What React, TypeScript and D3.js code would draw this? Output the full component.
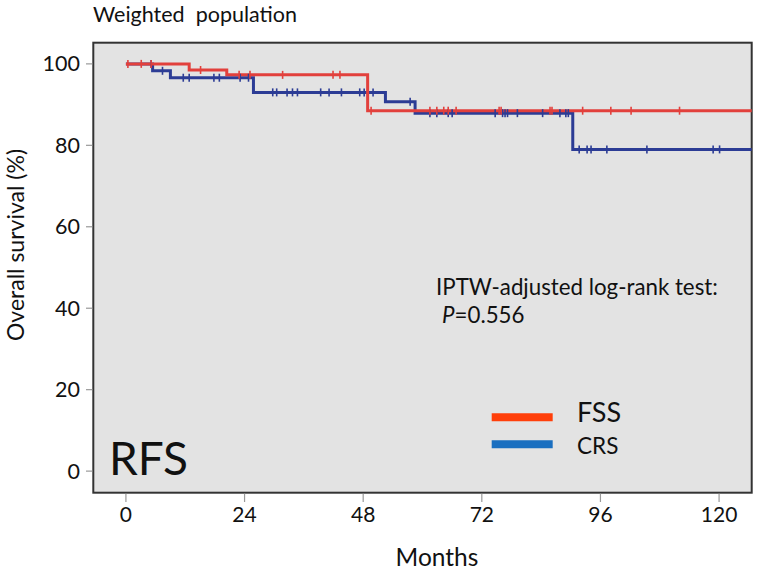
import React from "react";
import * as d3 from "d3";

const xTicks = [0, 24, 48, 72, 96, 120];
const yTicks = [0, 20, 40, 60, 80, 100];

const fssTimes = [0, 12.8, 20.4, 48.9];
const fssSurv = [100, 98.5, 97.3, 88.5];
const fssCensor = [0.4, 3.1, 5.1, 15.1, 22.9, 25.1, 31.7, 41.9, 43.3, 49.6, 61.5, 62.9, 64.3, 65.2, 66.8, 75.5, 75.9, 85.8, 86.2, 92.4, 98.1, 102.2, 112.0];

const crsTimes = [0, 5.4, 9.0, 25.8, 52.5, 58.5, 90.4];
const crsSurv = [100, 98.3, 96.6, 93.0, 90.7, 87.9, 79.0];
const crsCensor = [5.1, 7.4, 11.6, 12.8, 17.8, 18.9, 23.1, 24.8, 29.7, 30.5, 32.6, 33.7, 34.7, 39.4, 41.1, 43.6, 47.3, 48.2, 50.0, 57.5, 61.5, 62.9, 65.2, 66.0, 74.7, 76.2, 76.7, 77.2, 79.2, 84.3, 87.8, 89.0, 89.5, 91.7, 93.3, 94.1, 97.3, 105.4, 118.8, 120.1];

const seriesNames = ["FSS", "CRS"];
const endTime = 126.6;
const xDomain = [-6.6, 126.6];
const yDomain = [-5.3, 105.2];

const title = "Weighted\u00a0\u00a0population";
const yTitle = "Overall survival (%)";
const xTitle = "Months";
const panelLabel = "RFS";
const testLabel = "IPTW-adjusted log-rank test:";
const pValue = "=0.556";

const FONT = "Lato, 'Open Sans', sans-serif";

function survAt(times: number[], surv: number[], t: number) {
  let v = surv[0];
  for (let i = 0; i < times.length; i++) if (times[i] <= t) v = surv[i];
  return v;
}

export default function App() {
  const left = 93.3, right = 751.7, top = 42.7, bottom = 492.7;
  const x = d3.scaleLinear().domain(xDomain).range([left, right]);
  const y = d3.scaleLinear().domain(yDomain).range([bottom, top]);

  const line = d3
    .line<[number, number]>()
    .x((d) => x(d[0]))
    .y((d) => y(d[1]))
    .curve(d3.curveStepAfter);

  const pts = (times: number[], surv: number[]) => {
    const p: [number, number][] = times.map((t, i) => [t, surv[i]]);
    p.push([endTime, surv[surv.length - 1]]);
    return p;
  };

  const red = "#e2403c";
  const blue = "#2c3c95";

  const censorMarks = (times: number[], surv: number[], cens: number[], color: string, key: string) =>
    cens.map((t, i) => {
      const cx = x(t);
      const cy = y(survAt(times, surv, t));
      return <line key={key + i} x1={cx} x2={cx} y1={cy - 4} y2={cy + 4} stroke={color} strokeWidth={1.6} />;
    });

  return (
    <svg width={758} height={573} style={{ position: "absolute", left: 0, top: 0 }}>
      <rect x={0} y={0} width={758} height={573} fill="#ffffff" />
      <text x={93} y={21.5} fontFamily={FONT} fontSize={21.5} fill="#111">{title}</text>
      <rect x={left} y={top} width={right - left} height={bottom - top} fill="#e3e3e3" stroke="#333" strokeWidth={2} />

      {yTicks.map((t) => (
        <g key={"y" + t}>
          <line x1={86} x2={left - 1} y1={y(t)} y2={y(t)} stroke="#999" strokeWidth={1.2} />
          <text x={80} y={y(t) + 7.5} textAnchor="end" fontFamily={FONT} fontSize={21.5} fill="#111">{t}</text>
        </g>
      ))}
      {xTicks.map((t) => (
        <g key={"x" + t}>
          <line x1={x(t)} x2={x(t)} y1={bottom + 1} y2={502} stroke="#999" strokeWidth={1.2} />
          <text x={x(t)} y={522} textAnchor="middle" fontFamily={FONT} fontSize={21} fill="#111">{t}</text>
        </g>
      ))}
      <text x={437} y={566} textAnchor="middle" fontFamily={FONT} fontSize={24.5} fill="#111">{xTitle}</text>
      <text transform="translate(24,245) rotate(-90)" textAnchor="middle" fontFamily={FONT} fontSize={23} fill="#111">{yTitle}</text>

      <path d={line(pts(crsTimes, crsSurv)) || ""} fill="none" stroke={blue} strokeWidth={3} />
      <path d={line(pts(fssTimes, fssSurv)) || ""} fill="none" stroke={red} strokeWidth={3} />
      {censorMarks(crsTimes, crsSurv, crsCensor, blue, "cb")}
      {censorMarks(fssTimes, fssSurv, fssCensor, red, "cr")}

      <text x={436} y={295} fontFamily={FONT} fontSize={22.3} fill="#111">{testLabel}</text>
      <text x={442} y={323} fontFamily={FONT} fontSize={22.3} fill="#111">
        <tspan fontStyle="italic">P</tspan>{pValue}
      </text>

      <line x1={491.7} x2={552.7} y1={417.3} y2={417.3} stroke="#ff3f0a" strokeWidth={8} />
      <text x={577} y={421.7} fontFamily={FONT} fontSize={27} fill="#111">{seriesNames[0]}</text>
      <line x1={491.7} x2={552.7} y1={444.3} y2={444.3} stroke="#1a6fc0" strokeWidth={8} />
      <text x={577} y={454.3} fontFamily={FONT} fontSize={22.5} fill="#111">{seriesNames[1]}</text>

      <text x={109} y={475} fontFamily={FONT} fontSize={46} fill="#111">{panelLabel}</text>
    </svg>
  );
}
